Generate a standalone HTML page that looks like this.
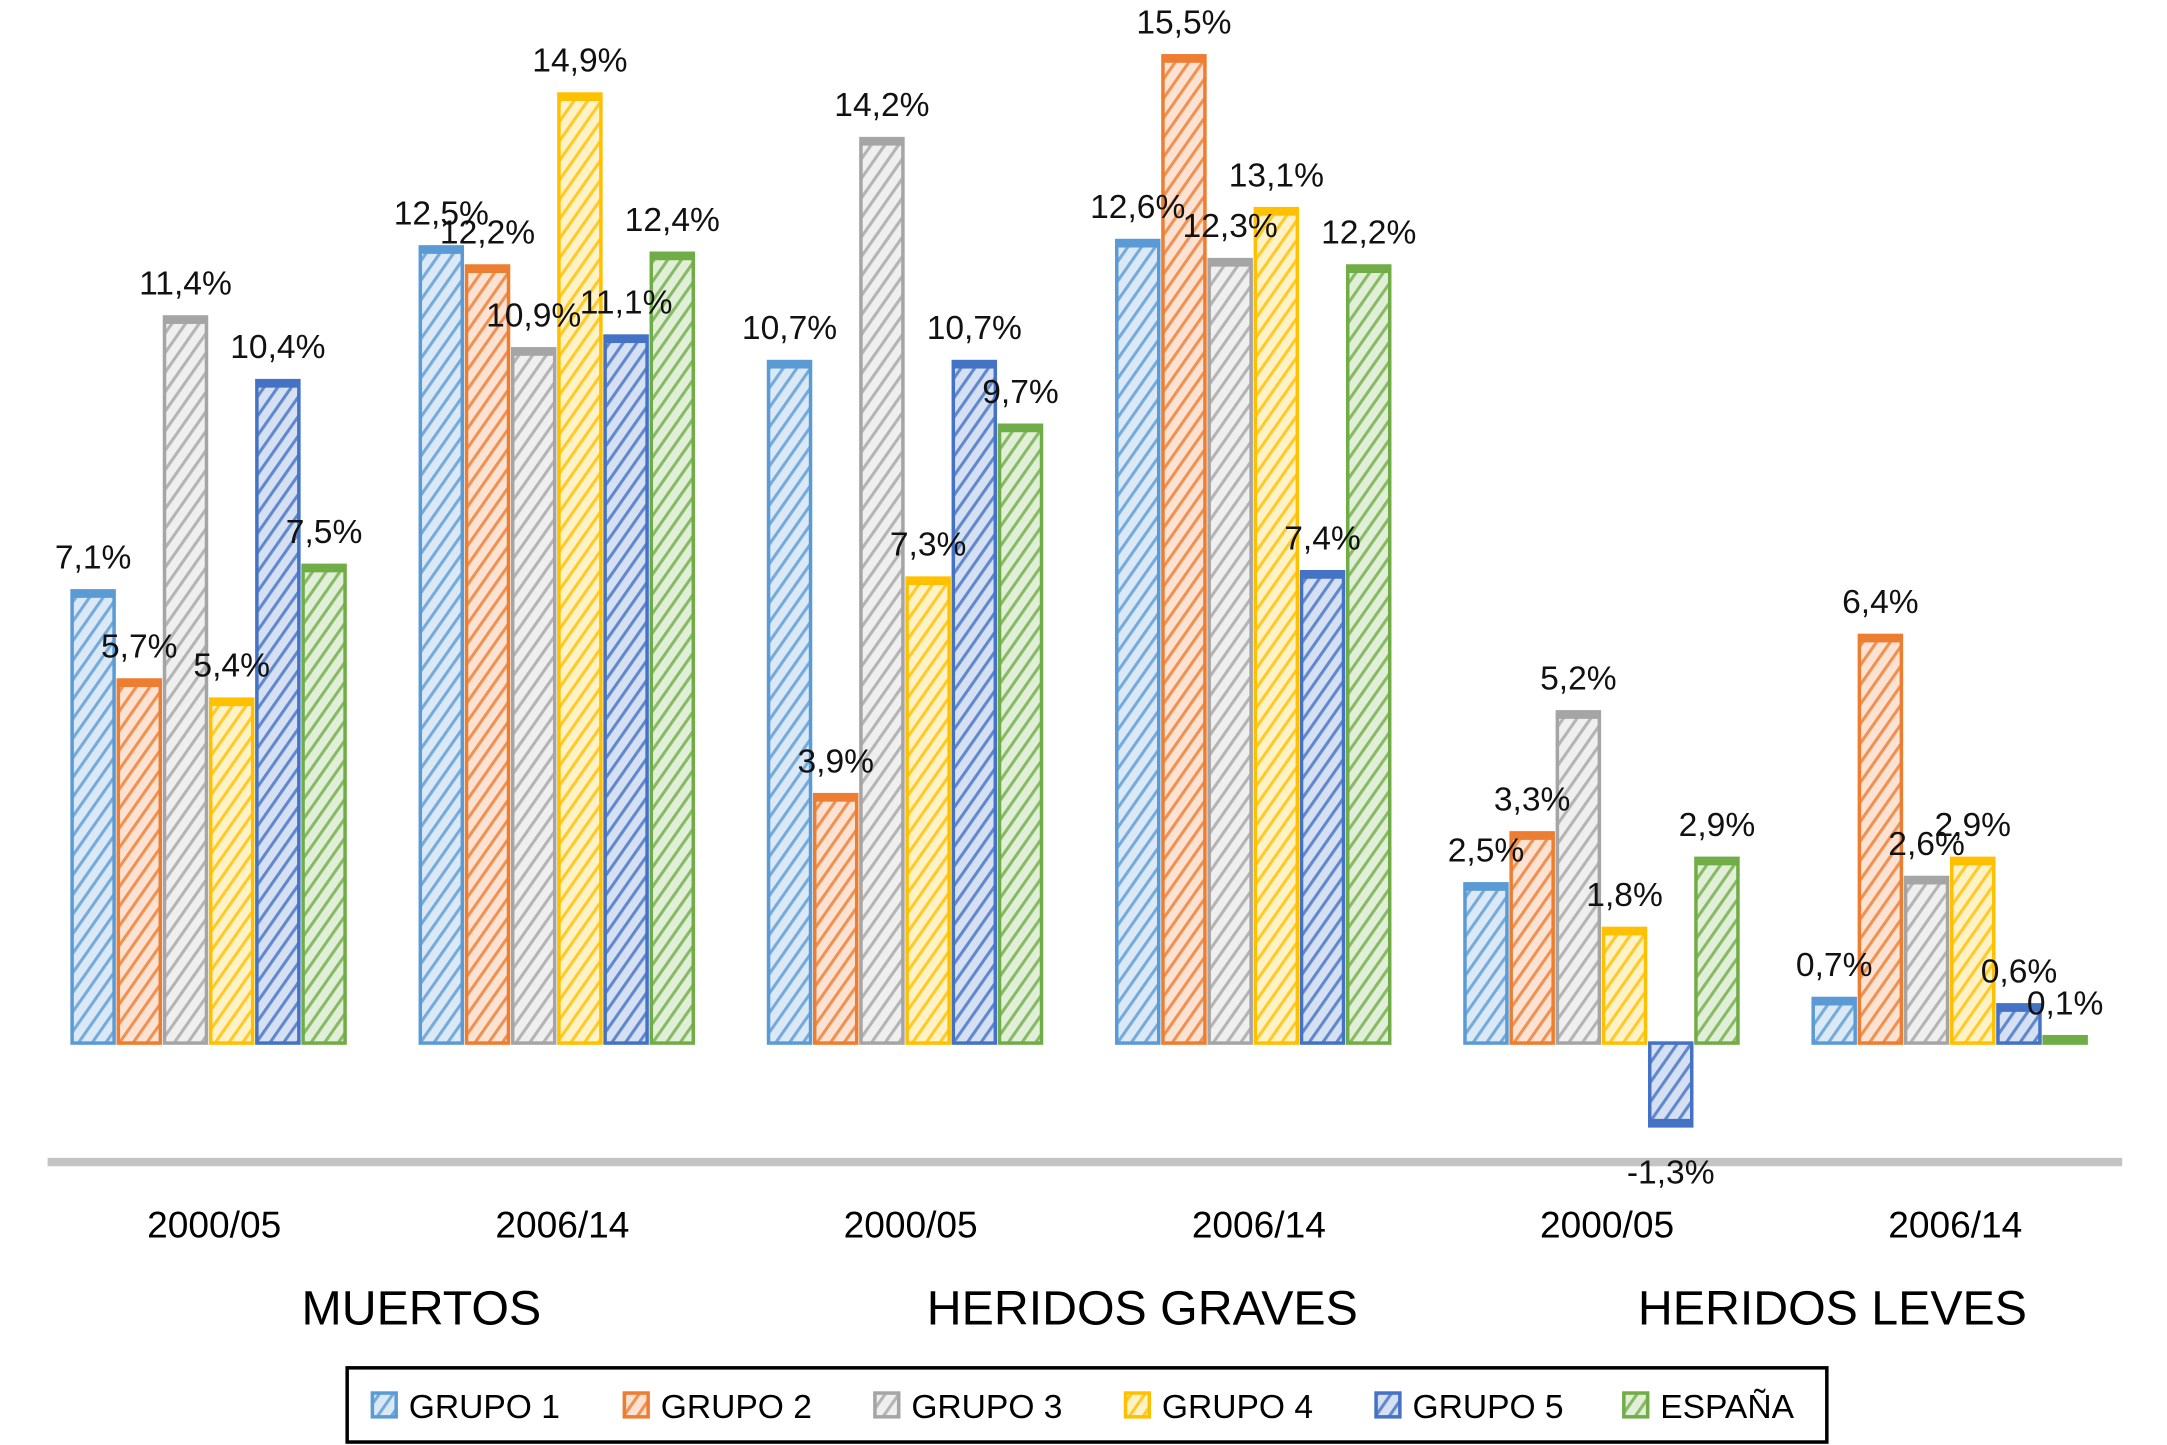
<!DOCTYPE html>
<html><head><meta charset="utf-8"><style>
html,body{margin:0;padding:0;background:#fff;}
svg{display:block;font-family:"Liberation Sans",Arial,sans-serif;}
</style></head><body>
<svg id="chart" width="2167" height="1445" viewBox="0 0 1548 1032" xmlns="http://www.w3.org/2000/svg">
<defs id="defs"></defs>
<rect x="34" y="827" width="1482" height="6" fill="#c4c4c4"/>
<g id="bars"></g>
<g id="labels"></g>
<g id="cats"></g>
<text x="301" y="946" font-size="34.5" text-anchor="middle">MUERTOS</text>
<text x="816" y="946" font-size="34.5" text-anchor="middle">HERIDOS GRAVES</text>
<text x="1309" y="946" font-size="34.5" text-anchor="middle">HERIDOS LEVES</text>
<rect x="248" y="977" width="1057" height="53" fill="none" stroke="#000" stroke-width="2.5"/>
<g id="legend"></g>
</svg>
<script>
const categories = ["2000/05","2006/14","2000/05","2006/14","2000/05","2006/14"];
const seriesNames = ["GRUPO 1","GRUPO 2","GRUPO 3","GRUPO 4","GRUPO 5","ESPAÑA"];
const grupo1 = [7.1,12.5,10.7,12.6,2.5,0.7];
const grupo2 = [5.7,12.2,3.9,15.5,3.3,6.4];
const grupo3 = [11.4,10.9,14.2,12.3,5.2,2.6];
const grupo4 = [5.4,14.9,7.3,13.1,1.8,2.9];
const grupo5 = [10.4,11.1,10.7,7.4,-1.3,0.6];
const espana = [7.5,12.4,9.7,12.2,2.9,0.1];
const series = [grupo1,grupo2,grupo3,grupo4,grupo5,espana];
const colors = ["#5b9bd5","#ed7d31","#a5a5a5","#ffc000","#4472c4","#70ad47"];
const tints = ["#dbe9f7","#fbe2d2","#efefef","#fff2c6","#d6e0f3","#e1efd8"];

const NS="http://www.w3.org/2000/svg";
const baseY=745, pxPer=45.5, groupX0=50, groupStep=248.75, barW=33;
function y(v){return baseY - v*pxPer;}
function x(g,s){return groupX0 + g*groupStep + s*barW;}
function mk(tag,attrs,parent){const e=document.createElementNS(NS,tag);for(const k in attrs)e.setAttribute(k,attrs[k]);parent.appendChild(e);return e;}
const defs=document.getElementById('defs');
colors.forEach((c,i)=>{
  const p=mk('pattern',{id:'hatch'+i,width:8,height:8,patternUnits:'userSpaceOnUse',patternTransform:'rotate(-55)'},defs);
  mk('rect',{width:8,height:8,fill:tints[i]},p);
  mk('rect',{width:8,height:2.2,fill:c,opacity:0.8},p);
});
const bars=document.getElementById('bars'), labels=document.getElementById('labels'), cats=document.getElementById('cats'), legend=document.getElementById('legend');
series.forEach((vals,s)=>{
  vals.forEach((v,g)=>{
    const bx=x(g,s), top=Math.min(y(v),baseY), h=Math.abs(y(v)-baseY);
    const r=mk('rect',{x:bx+1.5,y:top,width:barW-3,height:h,fill:'url(#hatch'+s+')',stroke:colors[s],'stroke-width':2.5},bars);
    
    
    const cap=mk('rect',{x:bx+1.5,y:(v>=0?top:top+h-5),width:barW-3,height:5,fill:colors[s]},bars);
    
    
    const t=mk('text',{x:bx+barW/2,y:(v>=0?y(v)-16:y(v)+41),'font-size':24,'text-anchor':'middle',fill:'#111'},labels);
    t.textContent=v.toFixed(1).replace('.',',')+'%';
    
    
  });
});
categories.forEach((c,g)=>{
  const t=mk('text',{x:groupX0+g*groupStep+3*barW+4,y:884,'font-size':26.5,'text-anchor':'middle'},cats);
  t.textContent=c;
  
  
});
const legX=[266,446,625,804,983,1160];
seriesNames.forEach((n,i)=>{
  const sw=mk('rect',{x:legX[i],y:995,width:17,height:17,fill:'url(#hatch'+i+')',stroke:colors[i],'stroke-width':2.5},legend);
  
  
  const t=mk('text',{x:legX[i]+26,y:1013,'font-size':24},legend);
  t.textContent=n;
  
  
});
</script>
</body></html>
